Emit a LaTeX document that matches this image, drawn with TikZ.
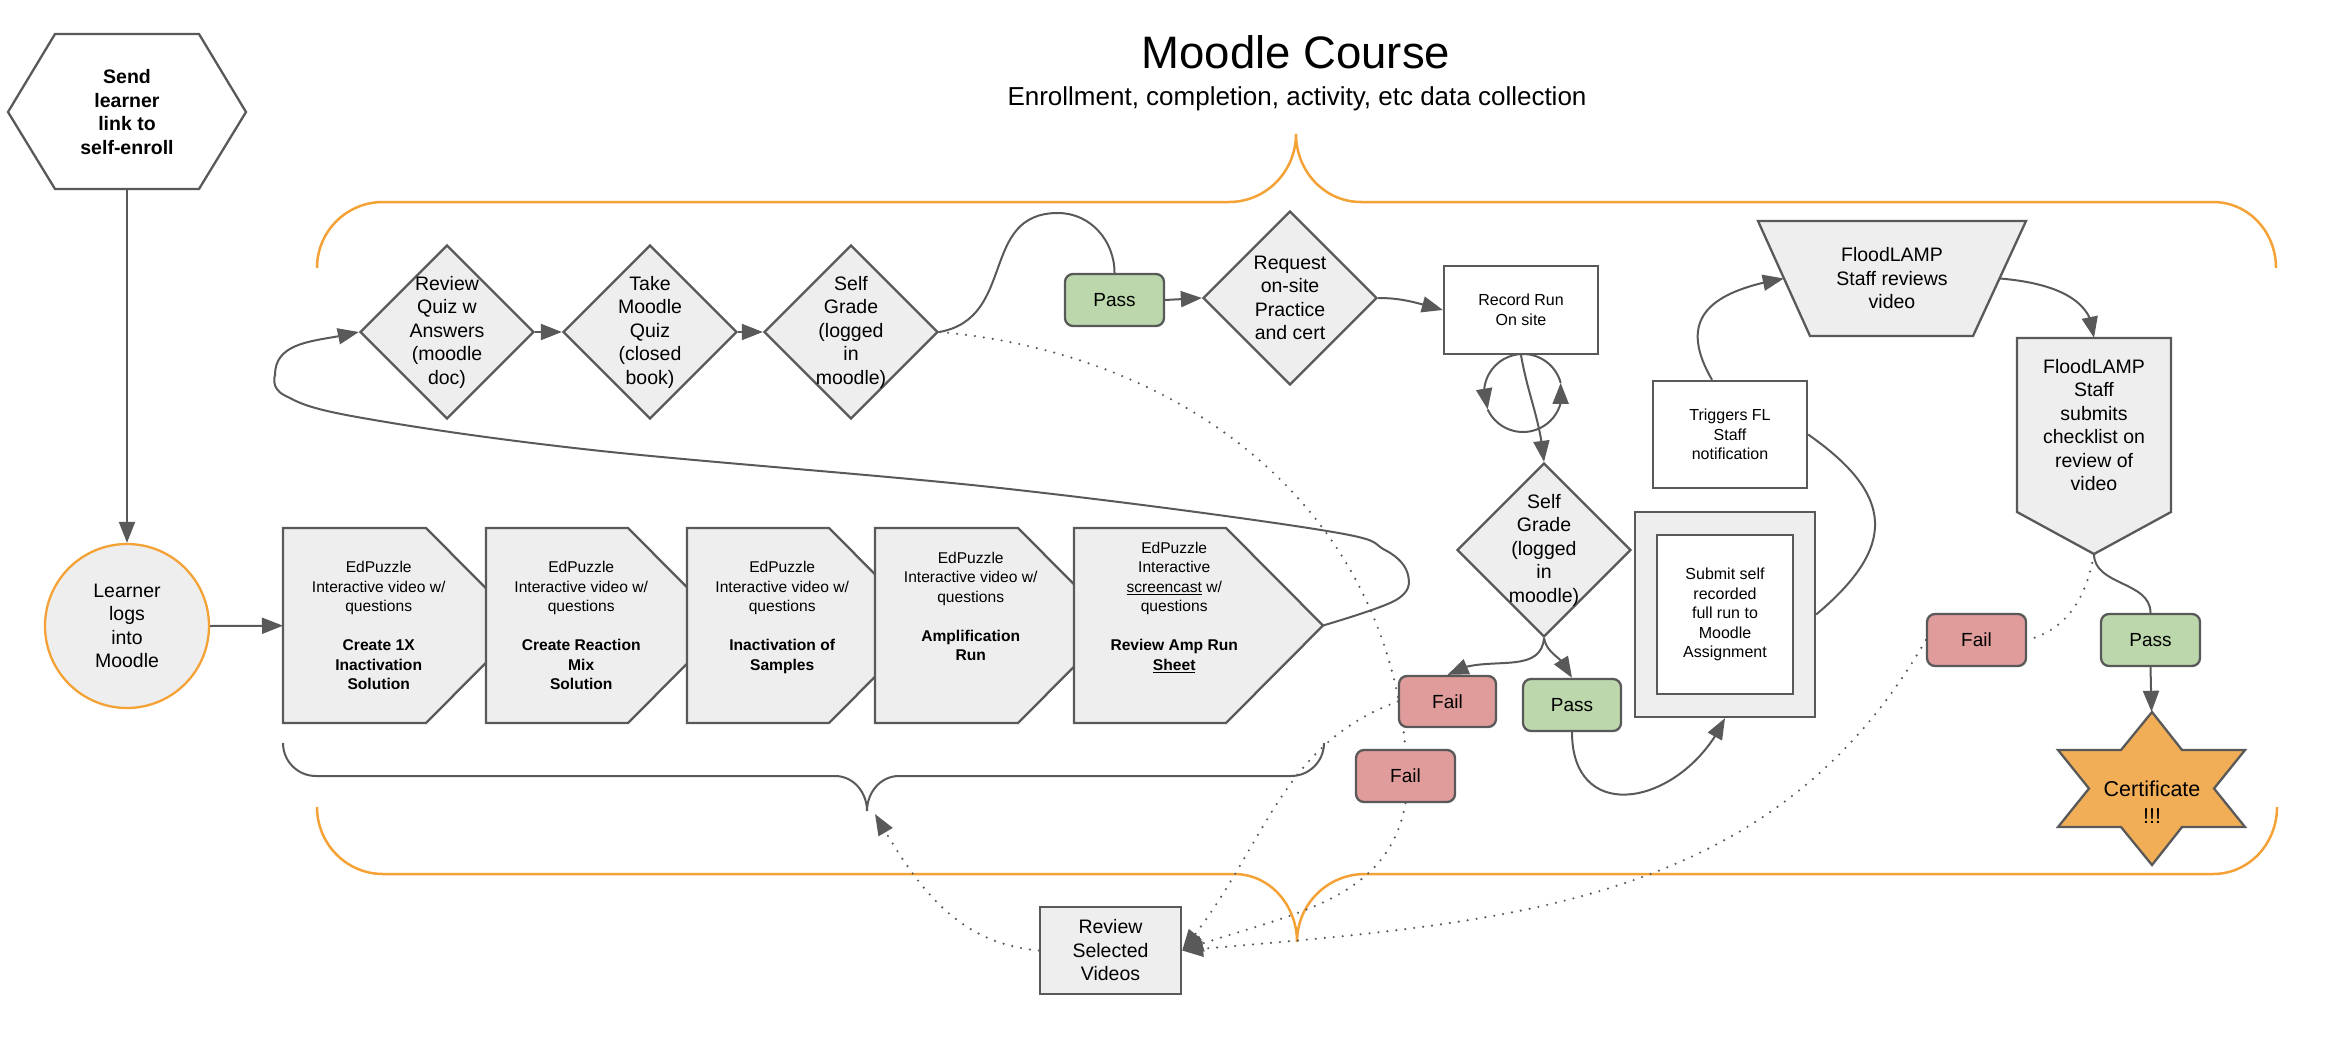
\documentclass[tikz,border=0pt]{standalone}
\usepackage{fontspec}
\setmainfont{Liberation Sans}
\usetikzlibrary{arrows.meta,bending,shapes.geometric,backgrounds}

\definecolor{linegray}{HTML}{595959}
\definecolor{boxgray}{HTML}{EEEEEE}
\definecolor{moodleorange}{HTML}{F4A236}
\definecolor{certorange}{HTML}{F1AE57}
\definecolor{failred}{HTML}{E09C9B}
\definecolor{passgreen}{HTML}{BBD7AB}

\tikzset{
  shapeline/.style={draw=linegray, line width=2.3pt},
  txt/.style={align=center, inner sep=0pt, font=\fontsize{19.5}{23.5}\selectfont},
  smalltxt/.style={align=center, inner sep=0pt, font=\fontsize{16}{19.5}\selectfont},
  edtxt/.style={align=center, inner sep=0pt, anchor=north west, minimum height=195pt, font=\fontsize{15.6}{19.5}\selectfont},
  decision/.style={txt, diamond, aspect=1, shapeline, fill=boxgray, minimum width=174pt, minimum height=174pt, inner sep=-12pt},
  plainbox/.style={smalltxt, shapeline, fill=white},
  result/.style={txt, shapeline, rounded corners=8pt, minimum width=99pt, minimum height=52pt, font=\fontsize{19}{23}\selectfont},
  failbox/.style={result, fill=failred},
  passbox/.style={result, fill=passgreen},
  link/.style={draw=linegray, line width=2pt},
  arr/.style={link, -{Triangle[length=21pt,width=16pt]}},
  dots/.style={draw=linegray, line width=2.4pt, line cap=round, dash pattern=on 0pt off 9pt},
  dotarr/.style={dots, -{Triangle[length=21pt,width=16pt]}},
  brace/.style={draw=moodleorange, line width=2.5pt},
}

\begin{document}
\begin{tikzpicture}[x=1pt, y=1pt]
\useasboundingbox (0,0) rectangle (2328,-1062);

% Title
\node[anchor=base, font=\fontsize{45.5}{54}\selectfont] (title) at (1296,-69) {Moodle Course};
\node[anchor=base, font=\fontsize{26}{31}\selectfont] (subtitle) at (1297,-106) {Enrollment, completion, activity, etc data collection};

% Course braces
\draw[brace] (317,-268) to[out=90,in=180] (383,-202) -- (1229,-202) to[out=0,in=-90] (1296,-134) to[out=-90,in=180] (1361,-202) -- (2213,-202) to[out=0,in=90] (2276,-268);
\draw[brace] (317,-807) to[out=-90,in=180] (383,-874) -- (1234,-874) to[out=0,in=90] (1297,-942) to[out=90,in=180] (1365,-874) -- (2213,-874) to[out=0,in=-90] (2277,-807);
\draw[link] (283,-743) to[out=-90,in=180] (316,-776) -- (835,-776) to[out=0,in=90] (867,-811) to[out=90,in=180] (899,-776) -- (1291,-776) to[out=0,in=-90] (1324,-743);
\coordinate (bracetip) at (875,-814);

% Enrollment
\node[txt, font=\bfseries\fontsize{19.5}{23.5}\selectfont, minimum width=238pt, minimum height=155pt] (send) at (127,-112) {Send\\learner\\link to\\self-enroll};
\node[txt, circle, draw=moodleorange, line width=2.3pt, fill=boxgray, minimum size=164pt] (learner) at (127,-626) {Learner\\logs\\into\\Moodle};

% EdPuzzle videos
\node[edtxt, minimum width=191pt] (ed1) at (283,-528) {EdPuzzle\\Interactive video w/\\questions\\~\\\textbf{Create 1X}\\\textbf{Inactivation}\\\textbf{Solution}};
\node[edtxt, minimum width=190pt] (ed2) at (486,-528) {EdPuzzle\\Interactive video w/\\questions\\~\\\textbf{Create Reaction}\\\textbf{Mix}\\\textbf{Solution}};
\node[edtxt, minimum width=190pt] (ed3) at (687,-528) {EdPuzzle\\Interactive video w/\\questions\\~\\\textbf{Inactivation of}\\\textbf{Samples}\\~};
\node[edtxt, minimum width=191pt] (ed4) at (875,-528) {EdPuzzle\\Interactive video w/\\questions\\~\\\textbf{Amplification}\\\textbf{Run}\\~\\~};
\node[edtxt, minimum width=200pt] (ed5) at (1074,-528) {EdPuzzle\\Interactive\\\underline{screencast} w/\\questions\\~\\\textbf{Review Amp Run}\\\textbf{\underline{Sheet}}\\~\\~};
\coordinate (ed5tip) at (1323,-625.5);

% Quizzes
\node[decision] (rq) at (447,-332) {Review\\Quiz w\\Answers\\(moodle\\doc)};
\node[decision] (tq) at (650,-332) {Take\\Moodle\\Quiz\\(closed\\book)};
\node[decision] (sg1) at (851,-332) {Self\\Grade\\(logged\\in\\moodle)};
\node[passbox] (pass1) at (1114.5,-300) {Pass};
\node[decision] (req) at (1290,-298) {Request\\on-site\\Practice\\and cert};

% On site run
\node[plainbox, minimum width=154pt, minimum height=88pt] (rec) at (1521,-310) {Record Run\\On site};
\coordinate (loopc) at (1523,-393);
\node[decision] (sg2) at (1544,-550) {Self\\Grade\\(logged\\in\\moodle)};
\node[failbox, minimum width=97pt, minimum height=51pt] (fail1) at (1447.5,-701.5) {Fail};
\node[passbox, minimum width=98pt] (pass2) at (1572,-705) {Pass};
\node[failbox] (fail2) at (1405.5,-776) {Fail};
\node[shapeline, fill=boxgray, minimum width=180pt, minimum height=205pt, inner sep=0pt] (submit) at (1725,-614.5) {};
\node[plainbox, minimum width=136pt, minimum height=159pt] (submitin) at (submit.center) {Submit self\\recorded\\full run to\\Moodle\\Assignment};
\node[plainbox, minimum width=154pt, minimum height=107pt] (trig) at (1730,-434.5) {Triggers FL\\Staff\\notification};

% FloodLAMP review
\node[txt, minimum width=268pt, minimum height=115pt] (flr) at (1892,-278.5) {FloodLAMP\\Staff reviews\\video};
\node[txt, minimum width=154pt, minimum height=174pt] (chev) at (2094,-425) {FloodLAMP\\Staff\\submits\\checklist on\\review of\\video};
\coordinate (chevtip) at (2094,-554);
\node[failbox] (failR) at (1976.5,-640) {Fail};
\node[passbox] (passR) at (2150.5,-640) {Pass};
\node[minimum width=187pt, minimum height=153pt, inner sep=0pt] (cert) at (2151.5,-788.5) {};
\node[align=center, inner sep=0pt, font=\fontsize{21.5}{27}\selectfont] (certtext) at (2152,-802.5) {Certificate\\!!!};
\node[txt, shapeline, fill=boxgray, minimum width=141pt, minimum height=87pt] (review) at (1110.5,-950.5) {Review\\Selected\\Videos};

% Outlines drawn behind the text
\begin{scope}[on background layer]
\draw[shapeline, fill=white] (8,-112) -- (55,-34) -- (199,-34) -- (246,-112) -- (199,-189) -- (55,-189) -- cycle;
\draw[shapeline, fill=boxgray] (283,-528) -- (426,-528) -- (523,-625.5) -- (426,-723) -- (283,-723) -- cycle;
\draw[shapeline, fill=boxgray] (486,-528) -- (628,-528) -- (725,-625.5) -- (628,-723) -- (486,-723) -- cycle;
\draw[shapeline, fill=boxgray] (687,-528) -- (829,-528) -- (926,-625.5) -- (829,-723) -- (687,-723) -- cycle;
\draw[shapeline, fill=boxgray] (875,-528) -- (1018,-528) -- (1115,-625.5) -- (1018,-723) -- (875,-723) -- cycle;
\draw[shapeline, fill=boxgray] (1074,-528) -- (1226,-528) -- (1323,-625.5) -- (1226,-723) -- (1074,-723) -- cycle;
\draw[shapeline, fill=boxgray] (1758,-221) -- (2026,-221) -- (1973,-336) -- (1810,-336) -- cycle;
\draw[shapeline, fill=boxgray] (2017,-338) -- (2171,-338) -- (2171,-512) -- (2094,-554) -- (2017,-512) -- cycle;
\draw[shapeline, fill=certorange] (2152,-712) -- (2182,-750) -- (2245,-750) -- (2214,-788.5) -- (2245,-827) -- (2182,-827) -- (2152,-865) -- (2121,-827) -- (2058,-827) -- (2089,-788.5) -- (2058,-750) -- (2121,-750) -- cycle;
\draw[dots] (sg1.east) to[out=-5,in=95] (fail2.north);
\end{scope}

% Connectors
\draw[arr] (send.south) -- (learner.north);
\draw[arr] (learner.east) -- (ed1.west);
\draw[arr] plot[smooth, tension=0.6] coordinates {(ed5tip) (1396,-600) (1408,-575) (1385,-550) (1321,-530) (1000,-488) (592,-450) (357,-417) (284,-395) (275,-375)} to[out=90,in=195] (rq.west);
\draw[arr] (rq.east) -- (tq.west);
\draw[arr] (tq.east) -- (sg1.west);
\draw[link] (sg1.east) to[out=10,in=180,looseness=1.2] (1058,-213) to[out=0,in=90] (pass1.north);
\draw[arr] (pass1.east) -- (req.west);
\draw[arr] (req.east) to[out=0,in=165] (rec.west);
\draw[arr] ([shift={(90:39)}]loopc) arc[start angle=90, end angle=205, radius=39];
\draw[arr] ([shift={(205:39)}]loopc) arc[start angle=205, end angle=375, radius=39];
\draw[link] ([shift={(15:39)}]loopc) arc[start angle=15, end angle=90, radius=39];
\draw[arr] (rec.south) to[out=-80,in=95] (sg2.north);
\draw[arr] (sg2.south) to[out=-95,in=35] (fail1.north);
\draw[arr] (sg2.south) to[out=-80,in=100] (pass2.north);
\draw[arr] (pass2.south) to[out=-90,in=-115,looseness=1.6] (submit.south);
\draw[link] (submit.east) to[out=40,in=-35,looseness=1.5] (trig.east);
\draw[arr] ([xshift=-18pt]trig.north) to[out=120,in=-170,looseness=1.5] ([xshift=26pt]flr.west);
\draw[arr] ([xshift=-26pt]flr.east) to[out=-5,in=90] (chev.north);
\draw[link] (chevtip) to[out=-90,in=90] (passR.north);
\draw[arr] (passR.south) -- (cert.north);
\draw[dots] (chevtip) to[out=-100,in=15] (failR.east);
\draw[dotarr] (failR.west) to[out=-120,in=5] (review.east);
\draw[dotarr] (fail1.west) to[out=-160,in=50] (review.east);
\draw[dotarr] (fail2.south) to[out=-100,in=20] (review.east);
\draw[dotarr] (review.west) to[out=175,in=-60] (bracetip);
\end{tikzpicture}
\end{document}
